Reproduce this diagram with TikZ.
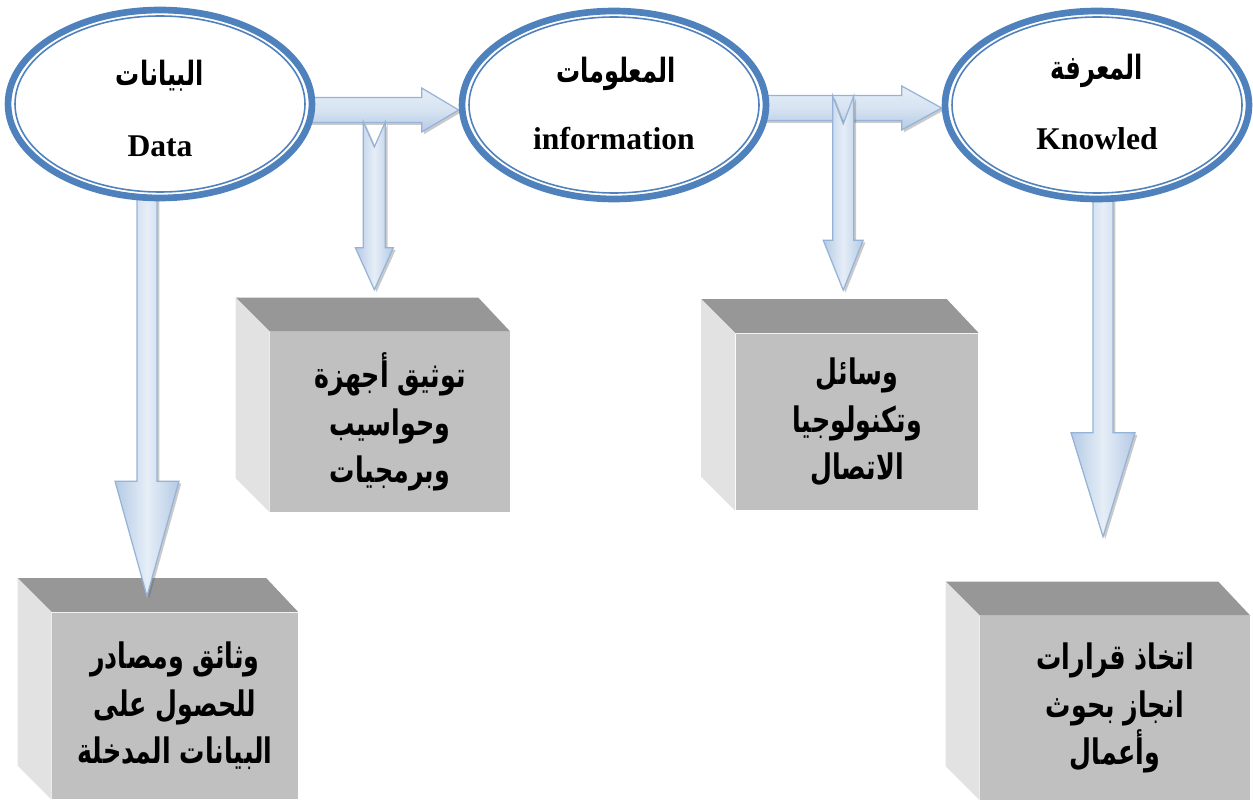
\documentclass[tikz,border=0pt]{standalone}
\usepackage{fontspec}
\setmainfont{Liberation Serif}
\newfontfamily\arabicfont[Script=Arabic, FakeStretch=0.72]{DejaVu Sans}
\TeXXeTstate=1
\usetikzlibrary{shapes.geometric,calc,backgrounds,shadows}

\definecolor{ringblue}{HTML}{4F81BD}
\definecolor{arrowedge}{HTML}{95B3D7}
\definecolor{arrowdark}{HTML}{B4CAE5}
\definecolor{arrowlight}{HTML}{E6EEF7}
\definecolor{facefront}{HTML}{C0C0C0}
\definecolor{facetop}{HTML}{979797}
\definecolor{faceside}{HTML}{E2E2E2}

\newcommand{\artext}[1]{{\arabicfont\bfseries\beginR #1\endR}}

% block arrow pointing right: start, tip, shaft half, head half, head length
\newcommand{\rightblock}[5]{%
  \path[harrow] ($(#1)+(0,-#3)$) -- ($(#2)+(-#5,-#3)$) -- ($(#2)+(-#5,-#4)$) -- (#2)
    -- ($(#2)+(-#5,#4)$) -- ($(#2)+(-#5,#3)$) -- ($(#1)+(0,#3)$) -- cycle;}
% block arrow pointing down: start, tip, shaft half, head half, head length, notch
\newcommand{\downblock}[6]{%
  \path[varrow] ($(#1)+(-#3,0)$) -- ($(#1)+(0,#6)$) -- ($(#1)+(#3,0)$) -- ($(#2)+(#3,-#5)$)
    -- ($(#2)+(#4,-#5)$) -- (#2) -- ($(#2)+(-#4,-#5)$) -- ($(#2)+(-#3,-#5)$) -- cycle;}
% top and side faces of a box
\newcommand{\boxfaces}[1]{%
  \path[boxtop] (#1.north west) -- ++(-34,-34) -- ($(#1.north east)+(-32,-34)$) -- (#1.north east) -- cycle;
  \path[boxside] (#1.north west) -- ++(-34,-34) -- ($(#1.south west)+(-34,-34)$) -- (#1.south west) -- cycle;}

\tikzset{
  ring/.style={ellipse, draw=ringblue, line width=3.8pt, fill=white,
    minimum width=6.08cm, minimum height=3.76cm, inner sep=0pt},
  ringinner/.style={draw=ringblue, line width=0.9pt},
  ringtitle/.style={font=\fontsize{19}{20}\selectfont},
  ringname/.style={font=\bfseries\fontsize{18}{20}\selectfont, anchor=base},
  boxfront/.style={rectangle, fill=facefront, align=center, inner sep=0pt,
    font=\fontsize{20}{27}\selectfont},
  boxtop/.style={fill=facetop},
  boxside/.style={fill=faceside},
  arrowshadow/.style={drop shadow={shadow xshift=1.3pt, shadow yshift=-1.3pt,
    fill=black!60, opacity=0.35}},
  harrow/.style={draw=arrowedge, line width=0.7pt, top color=arrowlight,
    bottom color=arrowdark, middle color=arrowlight!70!arrowdark, arrowshadow},
  varrow/.style={draw=arrowedge, line width=0.7pt, left color=arrowdark,
    right color=arrowdark, middle color=arrowlight, arrowshadow}
}

\begin{document}
\begin{tikzpicture}[x=0.02cm, y=-0.02cm]
  \useasboundingbox (0,0) rectangle (1253,800);

  % the three rings
  \node[ring] (data) at (160,104) {};
  \node[ring] (info) at (614,105) {};
  \node[ring] (know) at (1097,105) {};
  \foreach \r in {data,info,know}
    \draw[ringinner] (\r.center) ellipse [x radius=145, y radius=88];

  \node[ringtitle] (dataar) at (160,76) {\artext{البيانات}};
  \node[ringname] (dataen) at (160,157) {Data};
  \node[ringtitle] (infoar) at (616,74) {\artext{المعلومات}};
  \node[ringname] (infoen) at (614,150) {information};
  \node[ringtitle] (knowar) at (1097,71) {\artext{المعرفة}};
  \node[ringname] (knowen) at (1097,150) {Knowled};

  % the four boxes (front faces)
  \node[boxfront, minimum width=4.92cm, minimum height=3.74cm] (sources) at (175,706)
    {\artext{وثائق ومصادر}\\\artext{للحصول على}\\\artext{البيانات المدخلة}};
  \node[boxfront, minimum width=4.8cm, minimum height=3.6cm] (devices) at (390,422)
    {\artext{توثيق أجهزة}\\\artext{وحواسيب}\\\artext{وبرمجيات}};
  \node[boxfront, minimum width=4.86cm, minimum height=3.54cm] (media) at (857,422)
    {\artext{وسائل}\\\artext{وتكنولوجيا}\\\artext{الاتصال}};
  \node[boxfront, minimum width=5.4cm, minimum height=3.68cm] (decisions) at (1115,708)
    {\artext{اتخاذ قرارات}\\\artext{انجاز بحوث}\\\artext{وأعمال}};

  % arrow ends
  \coordinate (h1s) at ($(data.east)+(-10,6)$);
  \coordinate (h1t) at (h1s -| info.west);
  \coordinate (h2s) at ($(info.east)+(-10,3)$);
  \coordinate (h2t) at (h2s -| know.west);
  \coordinate (v1s) at ($(h1s)!0.45!(h1t)+(0,12)$);
  \coordinate (v1t) at ($(v1s |- devices.north)+(0,-42)$);
  \coordinate (v2s) at ($(h2s)!0.46!(h2t)+(0,-12)$);
  \coordinate (v2t) at ($(v2s |- media.north)+(0,-43)$);
  \coordinate (v3s) at ($(data.south)+(-13,-8)$);
  \coordinate (v3t) at ($(v3s |- sources.north)+(0,-16)$);
  \coordinate (v4s) at ($(know.south)+(6,-8)$);
  \coordinate (v4t) at ($(v4s |- decisions.north)+(0,-79)$);

  \begin{scope}[on background layer]
    \foreach \b in {sources,devices,media,decisions}
      {\boxfaces{\b}}
    \rightblock{h1s}{h1t}{12.5}{22}{37}
    \downblock{v1s}{v1t}{11}{19}{42}{25}
    \rightblock{h2s}{h2t}{12.5}{22}{40}
    \downblock{v2s}{v2t}{10.5}{20}{50}{28}
    \downblock{v3s}{v3t}{10}{32}{115}{0}
    \downblock{v4s}{v4t}{10}{32}{104}{0}
  \end{scope}
\end{tikzpicture}
\end{document}
